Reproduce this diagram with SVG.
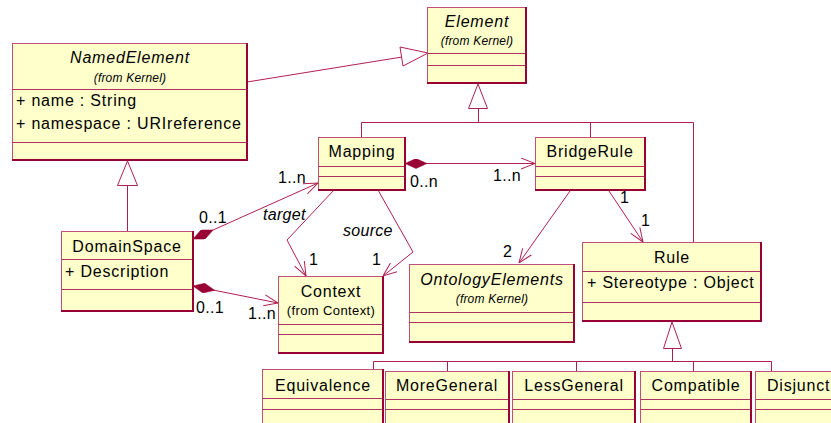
<svg xmlns="http://www.w3.org/2000/svg" width="831" height="423" viewBox="0 0 831 423">
<defs>
<style>
.box{fill:#FFFFCC;stroke:#C0507A;stroke-width:1}
.sep{stroke:#B03060;stroke-width:1;fill:none}
.sh{fill:none;stroke:#990033;stroke-width:2}
.ln{fill:none;stroke:#B0204E;stroke-width:1}
.tri{fill:#FFFFFF;stroke:#B0204E;stroke-width:1}
text{font-family:"Liberation Sans",Arial,sans-serif;fill:#000}
.nm{font-size:16px;letter-spacing:0.8px;text-anchor:middle}
.it{font-style:italic}
.fk{font-size:12px;font-style:italic;text-anchor:middle;letter-spacing:0.2px}
.fc{font-size:13px;text-anchor:middle;letter-spacing:0.4px}
.at{font-size:16px;letter-spacing:0.8px}
.lb{font-size:16px;letter-spacing:0.3px}
</style>
<marker id="arr" viewBox="0 0 14 12" refX="14" refY="6" markerWidth="14" markerHeight="12" orient="auto" markerUnits="userSpaceOnUse">
<path d="M0,0.5 L14,6 L0,11.5" fill="none" stroke="#B0204E" stroke-width="1"/>
</marker>
<marker id="dia" viewBox="0 0 22 10" refX="0" refY="5" markerWidth="22" markerHeight="10" orient="auto" markerUnits="userSpaceOnUse">
<path d="M0,5 L11,0 L22,5 L11,10 Z" fill="#990033" stroke="#990033" stroke-width="0.5"/>
</marker>
</defs>
<rect width="831" height="423" fill="#FFFFFF"/>

<g id="connectors">
<line class="ln" x1="247" y1="82" x2="402" y2="57"/>
<polygon class="tri" points="428,53 400,47 403,66"/>
<polygon class="tri" points="478,84 468.5,108.5 487.5,108.5"/>
<polyline class="ln" points="478.5,108.5 478.5,122.5"/>
<polyline class="ln" points="361.5,137 361.5,122.5 693.5,122.5 693.5,242"/>
<polyline class="ln" points="590.5,122.5 590.5,137"/>
<polygon class="tri" points="127.5,161 117.5,185.5 137.5,185.5"/>
<polyline class="ln" points="127.5,185.5 127.5,231"/>
<line class="ln" x1="405" y1="163.5" x2="535" y2="163.5" marker-start="url(#dia)" marker-end="url(#arr)"/>
<line class="ln" x1="193" y1="239" x2="318" y2="183" marker-start="url(#dia)" marker-end="url(#arr)"/>
<line class="ln" x1="193" y1="286" x2="278" y2="303" marker-start="url(#dia)" marker-end="url(#arr)"/>
<polyline class="ln" points="334,190 287,240 306,276" marker-end="url(#arr)"/>
<polyline class="ln" points="378,190 413,252 383,276" marker-end="url(#arr)"/>
<line class="ln" x1="570" y1="191" x2="519" y2="263" marker-end="url(#arr)"/>
<line class="ln" x1="609" y1="191" x2="643" y2="242" marker-end="url(#arr)"/>
<polygon class="tri" points="672,322 663.5,348.5 681.5,348.5"/>
<polyline class="ln" points="672.5,348.5 672.5,361.5"/>
<polyline class="ln" points="373.5,369 373.5,361.5 771.5,361.5 771.5,371"/>
<polyline class="ln" points="447.5,361.5 447.5,371"/>
<polyline class="ln" points="576.5,361.5 576.5,371"/>
<polyline class="ln" points="693.5,361.5 693.5,371"/>
<text class="lb" x="278" y="183">1..n</text>
<text class="lb" x="199" y="223">0..1</text>
<text class="lb it" x="263" y="220">target</text>
<text class="lb it" x="343" y="236">source</text>
<text class="lb" x="309" y="265">1</text>
<text class="lb" x="372" y="265">1</text>
<text class="lb" x="410" y="187">0..n</text>
<text class="lb" x="493" y="181">1..n</text>
<text class="lb" x="503" y="257">2</text>
<text class="lb" x="620" y="203">1</text>
<text class="lb" x="641" y="226">1</text>
<text class="lb" x="196" y="313">0..1</text>
<text class="lb" x="248" y="319">1..n</text>
</g>

<g id="NamedElement">
<rect class="box" x="12.5" y="43.5" width="235" height="117"/>
<line class="sep" x1="12.5" y1="89.5" x2="247.5" y2="89.5"/>
<line class="sep" x1="12.5" y1="142.5" x2="247.5" y2="142.5"/>
<polyline class="sh" points="247,43 247,160 12,160"/>
<text class="nm it" x="130" y="63">NamedElement</text>
<text class="fk" x="130" y="82">(from Kernel)</text>
<text class="at" x="16" y="106">+ name : String</text>
<text class="at" x="16" y="129">+ namespace : URIreference</text>
</g>

<g id="Element">
<rect class="box" x="427.5" y="7.5" width="99" height="76"/>
<line class="sep" x1="427.5" y1="53.5" x2="526.5" y2="53.5"/>
<line class="sep" x1="427.5" y1="65.5" x2="526.5" y2="65.5"/>
<polyline class="sh" points="526,7 526,83 427,83"/>
<text class="nm it" x="477" y="27">Element</text>
<text class="fk" x="477" y="45">(from Kernel)</text>
</g>

<g id="Mapping">
<rect class="box" x="318.5" y="137.5" width="87" height="53"/>
<line class="sep" x1="318.5" y1="166.5" x2="405.5" y2="166.5"/>
<line class="sep" x1="318.5" y1="176.5" x2="405.5" y2="176.5"/>
<polyline class="sh" points="405,137 405,190 318,190"/>
<text class="nm" x="362" y="157">Mapping</text>
</g>

<g id="BridgeRule">
<rect class="box" x="535.5" y="137.5" width="110" height="53"/>
<line class="sep" x1="535.5" y1="166.5" x2="645.5" y2="166.5"/>
<line class="sep" x1="535.5" y1="176.5" x2="645.5" y2="176.5"/>
<polyline class="sh" points="645,137 645,190 535,190"/>
<text class="nm" x="590" y="157">BridgeRule</text>
</g>

<g id="DomainSpace">
<rect class="box" x="61.5" y="231.5" width="132" height="80"/>
<line class="sep" x1="61.5" y1="259.5" x2="193.5" y2="259.5"/>
<line class="sep" x1="61.5" y1="289.5" x2="193.5" y2="289.5"/>
<polyline class="sh" points="193,231 193,311 61,311"/>
<text class="nm" x="127" y="252">DomainSpace</text>
<text class="at" x="65" y="277">+ Description</text>
</g>

<g id="Context">
<rect class="box" x="278.5" y="276.5" width="105" height="77"/>
<line class="sep" x1="278.5" y1="324.5" x2="383.5" y2="324.5"/>
<line class="sep" x1="278.5" y1="334.5" x2="383.5" y2="334.5"/>
<polyline class="sh" points="383,276 383,353 278,353"/>
<text class="nm" x="331" y="297">Context</text>
<text class="fc" x="331" y="315">(from Context)</text>
</g>

<g id="OntologyElements">
<rect class="box" x="409.5" y="264.5" width="165" height="78"/>
<line class="sep" x1="409.5" y1="312.5" x2="574.5" y2="312.5"/>
<line class="sep" x1="409.5" y1="322.5" x2="574.5" y2="322.5"/>
<polyline class="sh" points="574,264 574,342 409,342"/>
<text class="nm it" x="492" y="285">OntologyElements</text>
<text class="fk" x="492" y="303">(from Kernel)</text>
</g>

<g id="Rule">
<rect class="box" x="582.5" y="242.5" width="179" height="79"/>
<line class="sep" x1="582.5" y1="271.5" x2="761.5" y2="271.5"/>
<line class="sep" x1="582.5" y1="302.5" x2="761.5" y2="302.5"/>
<polyline class="sh" points="761,242 761,321 582,321"/>
<text class="nm" x="672" y="263">Rule</text>
<text class="at" x="587" y="288">+ Stereotype : Object</text>
</g>

<g id="Equivalence">
<rect class="box" x="262.5" y="369.5" width="121" height="70"/>
<line class="sep" x1="262.5" y1="398.5" x2="383.5" y2="398.5"/>
<line class="sep" x1="262.5" y1="409.5" x2="383.5" y2="409.5"/>
<polyline class="sh" points="383,369 383,440"/>
<text class="nm" x="323" y="391">Equivalence</text>
</g>

<g id="MoreGeneral">
<rect class="box" x="385.5" y="371.5" width="124" height="70"/>
<line class="sep" x1="385.5" y1="399.5" x2="509.5" y2="399.5"/>
<line class="sep" x1="385.5" y1="409.5" x2="509.5" y2="409.5"/>
<polyline class="sh" points="509,371 509,440"/>
<text class="nm" x="447" y="391">MoreGeneral</text>
</g>

<g id="LessGeneral">
<rect class="box" x="512.5" y="371.5" width="123" height="70"/>
<line class="sep" x1="512.5" y1="399.5" x2="635.5" y2="399.5"/>
<line class="sep" x1="512.5" y1="409.5" x2="635.5" y2="409.5"/>
<polyline class="sh" points="635,371 635,440"/>
<text class="nm" x="574" y="391">LessGeneral</text>
</g>

<g id="Compatible">
<rect class="box" x="640.5" y="371.5" width="111" height="70"/>
<line class="sep" x1="640.5" y1="399.5" x2="751.5" y2="399.5"/>
<line class="sep" x1="640.5" y1="409.5" x2="751.5" y2="409.5"/>
<polyline class="sh" points="751,371 751,440"/>
<text class="nm" x="696" y="391">Compatible</text>
</g>

<g id="Disjunct">
<rect class="box" x="755.5" y="371.5" width="120" height="70"/>
<line class="sep" x1="755.5" y1="399.5" x2="875.5" y2="399.5"/>
<line class="sep" x1="755.5" y1="409.5" x2="875.5" y2="409.5"/>
<text class="at" x="767" y="391">Disjunct</text>
</g>
</svg>
